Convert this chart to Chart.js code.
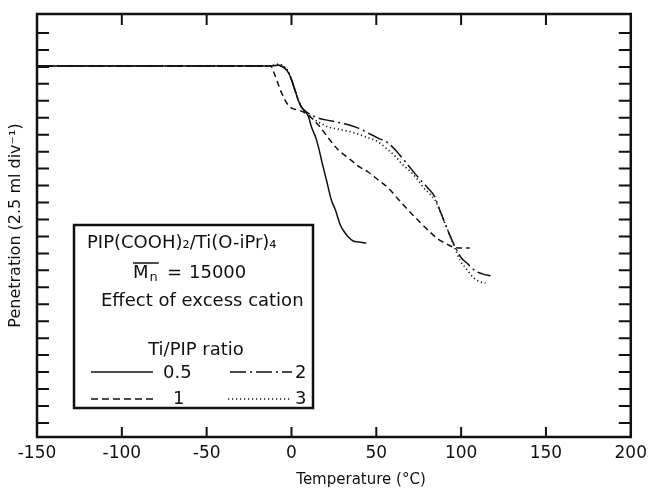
<!DOCTYPE html>
<html>
<head>
<meta charset="utf-8">
<script src="https://cdn.jsdelivr.net/npm/chart.js@4/dist/chart.umd.min.js"></script>
<style>
html, body { margin: 0; padding: 0; background: #fff; }
#wrap { width: 653px; height: 491px; }
</style>
</head>
<body>
<div id="wrap"><canvas id="chart" width="653" height="491"></canvas></div>
<script>
// temperature (°C) and penetration (divisions)
var temp05 = [-150, -13.4, -7.5, -4.0, -1.7, 0.1, 2.4, 4.2, 5.9, 8.3, 10.1, 11.8, 14.2, 15.9, 18.8, 20.6, 23.5, 25.9, 28.8, 31.2, 33.5, 36.4, 39.4, 44.1]
var pen05 = [21.05, 21.05, 21.1, 20.93, 20.64, 20.22, 19.52, 18.99, 18.63, 18.34, 18.04, 17.45, 16.86, 16.27, 15.04, 14.33, 13.15, 12.56, 11.67, 11.26, 10.97, 10.73, 10.67, 10.61]

var temp1 = [-150, -12.2, -10.5, -8.7, -5.8, -2.8, 0.1, 3.6, 7.1, 11.2, 15.9, 21.8, 27.6, 33.5, 39.4, 45.2, 51.1, 57.0, 62.8, 68.7, 74.5, 80.4, 86.3, 90.4, 95.1, 99.7, 105.0]
var pen1 = [21.05, 21.05, 20.7, 20.22, 19.46, 18.87, 18.57, 18.46, 18.34, 18.04, 17.57, 16.8, 16.1, 15.63, 15.15, 14.8, 14.33, 13.86, 13.21, 12.56, 11.97, 11.38, 10.85, 10.61, 10.38, 10.32, 10.32]

var temp2 = [-150, -13.4, -7.5, -4.0, -1.7, 0.1, 2.4, 4.2, 5.9, 8.9, 13.0, 15.9, 23.5, 31.7, 39.4, 45.2, 51.1, 57.0, 62.8, 68.7, 74.5, 80.4, 84.5, 87.4, 90.4, 93.3, 96.8, 99.7, 103.9, 108.5, 112.6, 117.3]
var pen2 = [21.05, 21.05, 21.1, 20.93, 20.64, 20.22, 19.52, 18.99, 18.63, 18.34, 18.1, 17.98, 17.81, 17.63, 17.39, 17.1, 16.8, 16.51, 15.92, 15.21, 14.5, 13.86, 13.33, 12.56, 11.79, 11.08, 10.32, 9.79, 9.38, 8.96, 8.79, 8.67]

var temp3 = [-150, -13.4, -7.5, -4.0, -1.7, 0.1, 2.4, 4.2, 5.9, 8.9, 13.0, 15.9, 21.8, 27.6, 35.3, 42.3, 51.1, 57.0, 61.1, 64.6, 70.4, 74.5, 77.5, 84.5, 88.0, 92.1, 95.1, 96.8, 99.2, 102.7, 106.8, 111.5, 114.4]
var pen3 = [21.05, 21.05, 21.17, 20.99, 20.7, 20.22, 19.52, 18.99, 18.63, 18.28, 17.92, 17.75, 17.45, 17.33, 17.16, 16.92, 16.57, 16.1, 15.74, 15.33, 14.8, 14.33, 13.92, 13.15, 12.38, 11.38, 10.61, 10.2, 9.61, 9.14, 8.61, 8.31, 8.25]

var ratioLabels = ['0.5', '1', '2', '3']
var xTicks = [-150, -100, -50, 0, 50, 100, 150, 200]
var yTicks = [0, 1, 2, 3, 4, 5, 6, 7, 8, 9, 10, 11, 12, 13, 14, 15, 16, 17, 18, 19, 20, 21, 22, 23]

var FONT = '"DejaVu Sans", sans-serif'
var dashes = [[], [6, 4], [16, 4, 2, 4], [1.2, 2.8]]

function pts(t, p) {
    return t.map(function (v, i) { return {x: v, y: p[i]} })
}

var allSeries = [[temp05, pen05], [temp1, pen1], [temp2, pen2], [temp3, pen3]]

var datasets = allSeries.map(function (s, i) {
    return {
        label: ratioLabels[i],
        data: pts(s[0], s[1]),
        borderColor: '#111',
        borderWidth: i == 3 ? 1.6 : 1.5,
        borderDash: dashes[i],
        pointRadius: 0,
        showLine: true,
        fill: false,
        cubicInterpolationMode: 'monotone'
    }
})

function drawFrame(chart) {
    var ctx = chart.ctx
    var a = chart.chartArea
    var xs = chart.scales.x, ys = chart.scales.y
    ctx.save()
    ctx.strokeStyle = '#111'
    ctx.lineWidth = 2.5
    ctx.strokeRect(a.left, a.top, a.right - a.left, a.bottom - a.top)
    ctx.lineWidth = 2
    ctx.beginPath()
    xTicks.slice(1, -1).forEach(function (v) {
        var px = xs.getPixelForValue(v)
        ctx.moveTo(px, a.bottom); ctx.lineTo(px, a.bottom - 10)
        ctx.moveTo(px, a.top); ctx.lineTo(px, a.top + 11)
    })
    yTicks.forEach(function (v) {
        var py = ys.getPixelForValue(v)
        ctx.moveTo(a.left, py); ctx.lineTo(a.left + 12, py)
        ctx.moveTo(a.right, py); ctx.lineTo(a.right - 12, py)
    })
    ctx.stroke()

    // x title, sits right of centre in the original
    ctx.fillStyle = '#111'
    ctx.font = '15px ' + FONT
    ctx.textAlign = 'center'
    ctx.textBaseline = 'alphabetic'
    ctx.fillText('Temperature (°C)', a.left + 324, a.bottom + 47)
    ctx.restore()
}

function drawKey(chart) {
    var ctx = chart.ctx
    var a = chart.chartArea
    var bx = a.left + 37, by = a.top + 211, bw = 239, bh = 183
    ctx.save()
    ctx.fillStyle = '#fff'
    ctx.fillRect(bx, by, bw, bh)
    ctx.strokeStyle = '#111'
    ctx.lineWidth = 2.5
    ctx.strokeRect(bx, by, bw, bh)

    ctx.fillStyle = '#111'
    ctx.textBaseline = 'alphabetic'
    ctx.textAlign = 'left'
    ctx.font = '18px ' + FONT
    ctx.fillText('PIP(COOH)₂/Ti(O-iPr)₄', bx + 13, by + 23)

    // M-bar sub n
    var mx = bx + 59, my = by + 53
    ctx.fillText('M', mx, my)
    var mw = ctx.measureText('M').width
    ctx.font = '13px ' + FONT
    ctx.fillText('n', mx + mw + 1, my + 3)
    var nw = ctx.measureText('n').width
    ctx.lineWidth = 1.5
    ctx.beginPath()
    ctx.moveTo(mx, my - 15)
    ctx.lineTo(mx + mw + nw + 2, my - 15)
    ctx.stroke()
    ctx.font = '18px ' + FONT
    ctx.fillText('=', bx + 93, my)
    ctx.fillText('15000', bx + 115, my)

    ctx.fillText('Effect of excess cation', bx + 27, by + 81)
    ctx.textAlign = 'center'
    ctx.fillText('Ti/PIP ratio', bx + 122, by + 130)

    // line samples
    var rows = [
        {ds: 0, x0: 17, x1: 79, y: 147, tx: 89, ty: 153},
        {ds: 2, x0: 156, x1: 218, y: 147, tx: 221, ty: 153},
        {ds: 1, x0: 17, x1: 79, y: 174, tx: 99, ty: 179},
        {ds: 3, x0: 154, x1: 216, y: 174, tx: 221, ty: 179}
    ]
    rows.forEach(function (r) {
        ctx.save()
        ctx.lineWidth = 1.5
        ctx.setLineDash(r.ds == 1 ? [7, 4] : dashes[r.ds])
        ctx.beginPath()
        ctx.moveTo(bx + r.x0, by + r.y)
        ctx.lineTo(bx + r.x1, by + r.y)
        ctx.stroke()
        ctx.restore()
        ctx.textAlign = 'left'
        ctx.fillText(ratioLabels[r.ds], bx + r.tx, by + r.ty)
    })
    ctx.restore()
}

var framePlugin = {
    id: 'frame',
    afterDraw: function (chart) {
        drawFrame(chart)
        drawKey(chart)
    }
}

var ctx = document.getElementById('chart').getContext('2d')
var myChart = new Chart(ctx, {
    type: 'scatter',
    data: {datasets: datasets},
    plugins: [framePlugin],
    options: {
        responsive: false,
        animation: false,
        devicePixelRatio: 1,
        layout: {padding: {left: 0, top: 14, right: 19, bottom: 0}},
        plugins: {legend: {display: false}, tooltip: {enabled: false}},
        scales: {
            x: {
                type: 'linear',
                min: -150,
                max: 200,
                afterBuildTicks: function (s) { s.ticks = xTicks.map(function (v) { return {value: v} }) },
                afterFit: function (s) { s.height = 54 },
                grid: {display: false, drawTicks: false},
                border: {display: false},
                ticks: {
                    color: '#111',
                    padding: 6,
                    maxRotation: 0,
                    autoSkip: false,
                    font: {family: FONT, size: 17},
                    callback: function (v) { return String(v) }
                }
            },
            y: {
                type: 'linear',
                min: -0.83,
                max: 24.12,
                afterBuildTicks: function (s) { s.ticks = yTicks.map(function (v) { return {value: v} }) },
                afterFit: function (s) { s.width = 37 },
                grid: {display: false, drawTicks: false},
                border: {display: false},
                ticks: {display: false},
                title: {
                    display: true,
                    text: 'Penetration (2.5 ml div⁻¹)',
                    color: '#111',
                    font: {family: FONT, size: 16},
                    padding: {top: 6, bottom: 0}
                }
            }
        }
    }
})
</script>
</body>
</html>
